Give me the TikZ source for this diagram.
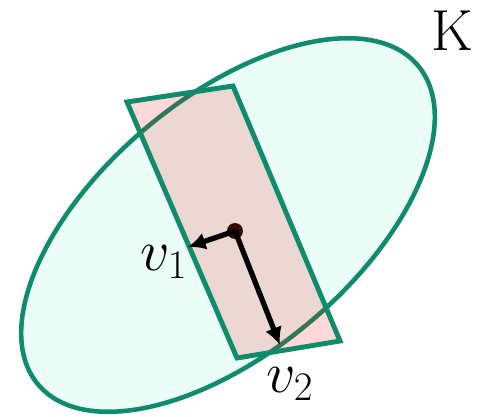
\RequirePackage{fix-cm}
\documentclass[tikz,border=0pt]{standalone}
\usetikzlibrary{arrows.meta}
\definecolor{coloredge}{HTML}{108C6C}
\definecolor{colorbody}{HTML}{EBFDF7}
\definecolor{colordot}{HTML}{3A0505}

\begin{document}
\begin{tikzpicture}[
    % one unit = one pixel of the 487x416 frame
    x=0.02cm, y=0.02cm,
    body/.style={
        draw=coloredge,
        fill=colorbody,
        line width=2.6pt
    },
    slab/.style={
        draw=coloredge,
        fill=red,
        fill opacity=0.15,
        line width=2.8pt,
        line join=miter
    },
    dot/.style={
        circle,
        fill=colordot,
        inner sep=0pt,
        minimum size=0.32cm
    },
    arrow/.style={
        -{Latex[length=10pt, width=10pt]},
        black,
        line width=3pt
    },
    lbl/.style={
        font=\fontsize{33}{40}\selectfont,
        inner sep=0pt
    }
]
\useasboundingbox (0,0) rectangle (487,-416);

% ==============================
% Convex body and the box
% ==============================
\draw[body] (228,-225) ellipse [x radius=248, y radius=127, rotate=40];

\draw[slab] (127,-102) -- (233,-86) -- (340,-341) -- (237,-358) -- cycle;

% ==============================
% Centre and directions
% ==============================
\node[dot] (c) at (235,-231) {};

\coordinate (v1tip) at (188,-247);
\coordinate (v2tip) at (280,-345);

\draw[arrow] (c.center) -- (v1tip);
\draw[arrow] (c.center) -- (v2tip);

% Labels
\node[lbl] (v1) at (164,-262) {$v_1$};
\node[lbl] (v2) at (290,-384) {$v_2$};
\node[lbl] (k) at (452,-31) {K};

\end{tikzpicture}
\end{document}
